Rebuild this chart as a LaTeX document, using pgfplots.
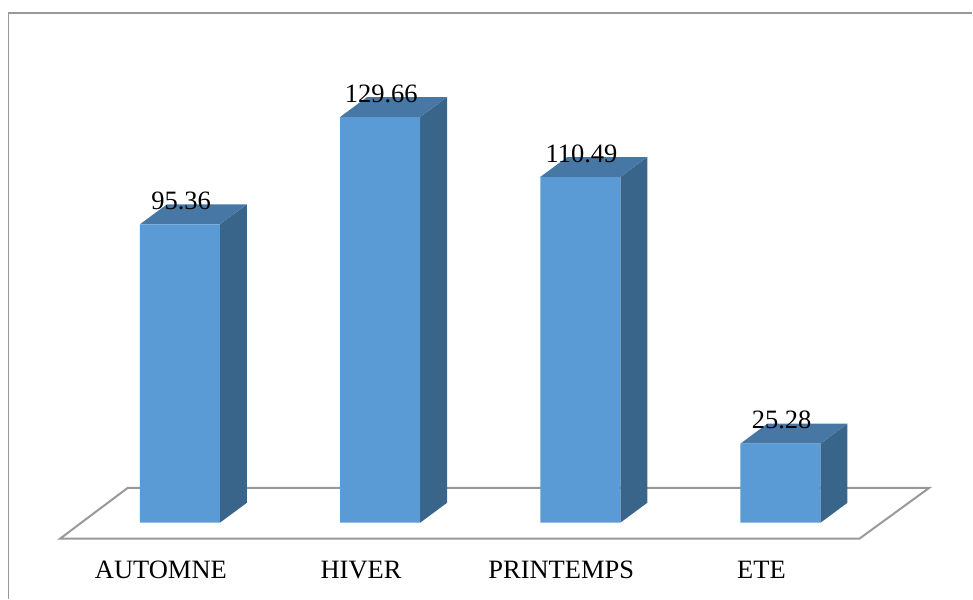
\documentclass[border=0pt]{standalone}
\usepackage{fontspec}
\setmainfont{Liberation Serif}
\usepackage{pgfplots}
\pgfplotsset{compat=1.18}
\definecolor{barfront}{HTML}{5B9BD5}
\definecolor{bartop}{HTML}{4778A5}
\definecolor{barside}{HTML}{3A658B}
\definecolor{floorline}{HTML}{999999}
\begin{document}
\begin{tikzpicture}
\begin{axis}[
  scale only axis,
  width=973pt, height=599pt,
  xmin=-0.8985, xmax=3.9585,
  ymin=-24.27, ymax=167.04,
  clip=false,
  axis line style={draw=none},
  major tick length=0pt,
  ytick=\empty,
  xtick={0,1,2,3},
  xticklabels={AUTOMNE,HIVER,PRINTEMPS,ETE},
  xticklabel style={font=\fontsize{26.5}{30}\selectfont, anchor=base, xshift=-19pt, yshift=20pt},
  /pgf/number format/assume math mode=true,
  /pgf/number format/fixed,
  /pgf/number format/fixed zerofill,
  /pgf/number format/precision=2,
]
% chart area border: left and top edges only
\addplot[draw=floorline, line width=1.4pt] coordinates {(-0.856,-24.27) (-0.856,162.9) (3.9585,162.9)};
% floor of the 3D plot
\addplot[draw=floorline, line width=2pt] coordinates {(-0.599,-5.11) (3.394,-5.11) (3.744,11.18) (-0.2596,11.18)} -- cycle;

% side faces
\addplot[fill=barside, draw=none] coordinates {(0.2,0) (0.335,6.39) (0.335,101.75) (0.2,95.36)} -- cycle;
\addplot[fill=barside, draw=none] coordinates {(1.2,0) (1.335,6.39) (1.335,136.05) (1.2,129.66)} -- cycle;
\addplot[fill=barside, draw=none] coordinates {(2.2,0) (2.335,6.39) (2.335,116.88) (2.2,110.49)} -- cycle;
\addplot[fill=barside, draw=none] coordinates {(3.2,0) (3.335,6.39) (3.335,31.67) (3.2,25.28)} -- cycle;

% top faces
\addplot[fill=bartop, draw=none] coordinates {(-0.2,95.36) (-0.065,101.75) (0.335,101.75) (0.2,95.36)} -- cycle;
\addplot[fill=bartop, draw=none] coordinates {(0.8,129.66) (0.935,136.05) (1.335,136.05) (1.2,129.66)} -- cycle;
\addplot[fill=bartop, draw=none] coordinates {(1.8,110.49) (1.935,116.88) (2.335,116.88) (2.2,110.49)} -- cycle;
\addplot[fill=bartop, draw=none] coordinates {(2.8,25.28) (2.935,31.67) (3.335,31.67) (3.2,25.28)} -- cycle;

% front faces with their value labels
\addplot[ybar, bar width=80pt, fill=barfront, draw=none,
  nodes near coords,
  every node near coord/.style={anchor=base, xshift=1.2pt, yshift=15pt, font=\fontsize{26.5}{30}\selectfont, text=black, inner sep=0pt},
] coordinates {(0,95.36) (1,129.66) (2,110.49) (3,25.28)};
\end{axis}
\end{tikzpicture}
\end{document}
